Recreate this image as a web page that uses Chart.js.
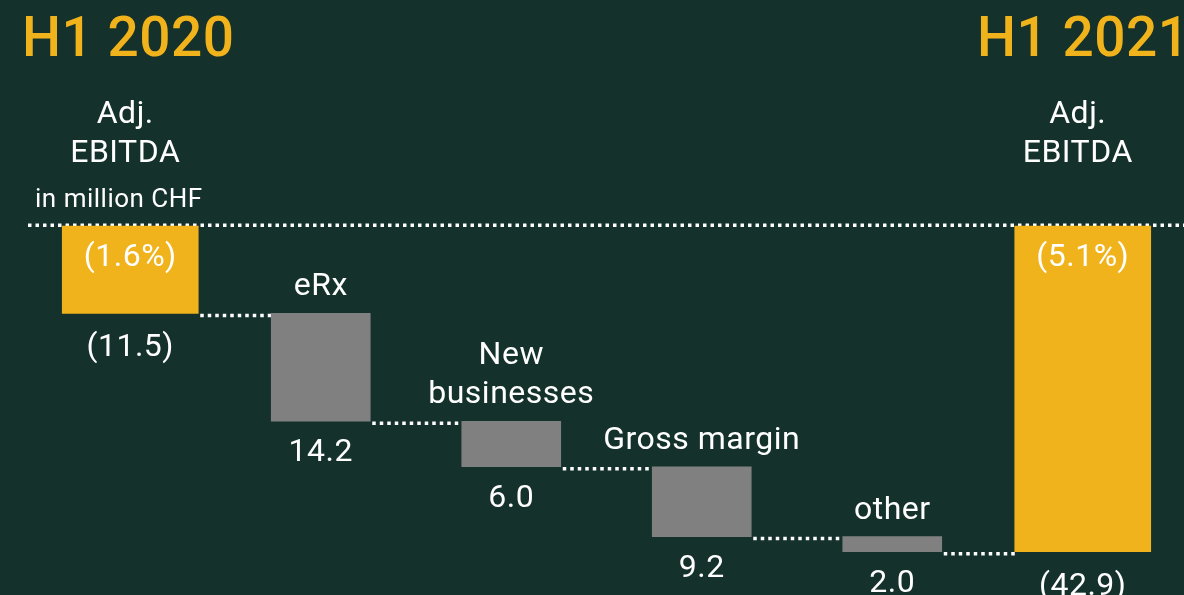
<!DOCTYPE html>
<html>
<head>
<meta charset="utf-8">
<script src="https://cdn.jsdelivr.net/npm/chart.js@4"></script>
<style>
    html, body { margin: 0; padding: 0; background: #14312c; overflow: hidden; }
    #wrap { width: 1184px; height: 595px; }
</style>
</head>
<body>
<div id="wrap"><canvas id="bridge" width="1184" height="595"></canvas></div>
<script>
// data (in million CHF)
const periods = ['H1 2020', 'H1 2021'];
const categories = [['Adj.', 'EBITDA'], ['eRx'], ['New', 'businesses'], ['Gross margin'], ['other'], ['Adj.', 'EBITDA']];
const startValue = -11.5;
const deltas = [-14.2, -6.0, -9.2, -2.0];
const endValue = -42.9;
const valueLabels = ['(11.5)', '14.2', '6.0', '9.2', '2.0', '(42.9)'];
const marginLabels = ['(1.6%)', '', '', '', '', '(5.1%)'];
const unitLabel = 'in million CHF';

const YELLOW = '#f1b31b';
const GREY = '#808080';
const WHITE = '#ffffff';
const FONT = 'Roboto, "Liberation Sans", sans-serif';

// build floating bars
const totalBars = [[0, startValue], null, null, null, null, [0, endValue]];
const stepBars = [null];
const levels = [startValue];
let running = startValue;
deltas.forEach(function(d) {
    stepBars.push([running, running + d]);
    running += d;
    levels.push(running);
});
stepBars.push(null);

// dotted lines + texts
const bridgePlugin = {
    id: 'bridge',
    beforeDatasetsDraw: function(chart) {
        const ctx = chart.ctx;
        const y = chart.scales.y;
        const bars = barBoxes(chart);
        ctx.save();
        ctx.strokeStyle = WHITE;
        ctx.lineWidth = 3.5;
        ctx.setLineDash([3.5, 4]);
        // zero line
        ctx.beginPath();
        ctx.moveTo(28, y.getPixelForValue(0) - 1);
        ctx.lineTo(chart.width, y.getPixelForValue(0) - 1);
        ctx.stroke();
        // connectors
        for (let i = 0; i < levels.length; i++) {
            const py = y.getPixelForValue(levels[i]) + 2;
            ctx.beginPath();
            ctx.moveTo(bars[i].right + 2, py);
            ctx.lineTo(bars[i + 1].left, py);
            ctx.stroke();
        }
        ctx.restore();
    },
    afterDatasetsDraw: function(chart) {
        const ctx = chart.ctx;
        const y = chart.scales.y;
        const zero = y.getPixelForValue(0);
        const bars = barBoxes(chart);
        ctx.save();
        ctx.textAlign = 'left';
        ctx.textBaseline = 'alphabetic';

        // period titles
        ctx.fillStyle = YELLOW;
        ctx.font = '500 55px ' + FONT;
        ctx.letterSpacing = '0.5px';
        ctx.fillText(periods[0], 22, 56);
        ctx.fillText(periods[1], 977, 56);

        ctx.fillStyle = WHITE;
        ctx.font = '26px ' + FONT;
        ctx.letterSpacing = '0.5px';
        ctx.fillText(unitLabel, 35, 207);

        ctx.textAlign = 'center';
        ctx.font = '32px ' + FONT;
        ctx.letterSpacing = '0.5px';
        bars.forEach(function(b, i) {
            const lines = categories[i];
            if (i === 0 || i === bars.length - 1) {
                // totals: label sits above the zero line
                const cx = b.x - 5;
                ctx.fillText(lines[0], cx, zero - 103);
                ctx.fillText(lines[1], cx, zero - 64);
                ctx.fillText(marginLabels[i], b.x, b.top + 40);
                ctx.fillText(valueLabels[i], b.x, b.bottom + 43);
            } else {
                for (let k = 0; k < lines.length; k++) {
                    ctx.fillText(lines[k], b.x, b.top - 18 - (lines.length - 1 - k) * 39);
                }
                ctx.fillText(valueLabels[i], b.x, b.bottom + 40);
            }
        });
        ctx.restore();
    }
};

function barBoxes(chart) {
    const boxes = [];
    for (let i = 0; i < categories.length; i++) {
        const ds = totalBars[i] ? 0 : 1;
        const el = chart.getDatasetMeta(ds).data[i];
        boxes.push({
            x: el.x,
            left: el.x - el.width / 2,
            right: el.x + el.width / 2,
            top: Math.min(el.y, el.base),
            bottom: Math.max(el.y, el.base)
        });
    }
    return boxes;
}

new Chart(document.getElementById('bridge').getContext('2d'), {
    type: 'bar',
    data: {
        labels: categories.map(function(c) { return c.join(' '); }),
        datasets: [
            {
                data: totalBars,
                backgroundColor: YELLOW,
                borderWidth: 0,
                barThickness: 136
            },
            {
                data: stepBars,
                backgroundColor: GREY,
                borderWidth: 0,
                barThickness: 99
            }
        ]
    },
    options: {
        responsive: false,
        animation: false,
        layout: { padding: { left: 35, right: 6, top: 0, bottom: 0 } },
        scales: {
            x: { display: false },
            y: { display: false, min: -48.6, max: 29.8 }
        },
        datasets: { bar: { grouped: false } },
        plugins: {
            legend: { display: false },
            tooltip: { enabled: false }
        }
    },
    plugins: [bridgePlugin]
});
</script>
</body>
</html>
